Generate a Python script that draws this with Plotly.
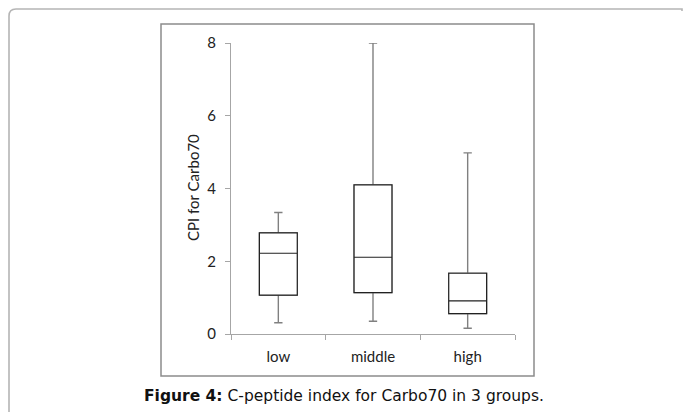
import plotly.graph_objects as go

# ---- data ----
groups = ["low", "middle", "high"]
lower = [0.31, 0.35, 0.16]
q1 = [1.07, 1.14, 0.56]
median = [2.22, 2.11, 0.91]
q3 = [2.78, 4.10, 1.67]
upper = [3.34, 8.00, 4.98]
y_ticks = [0, 2, 4, 6, 8]

W, H = 683, 412
# plot area in pixels
PL, PR, PT, PB = 231, 515, 43, 334


def X(px):
    return (px - PL) / (PR - PL)


def Y(py):
    return (PB - py) / (PB - PT)


fig = go.Figure()

# whiskers (gray)
fig.add_trace(go.Box(
    x=groups, q1=q1, median=median, q3=q3,
    lowerfence=lower, upperfence=upper,
    line=dict(color="#808080", width=1.4),
    fillcolor="white", whiskerwidth=0.22, width=0.4,
    boxpoints=False, hoverinfo="skip", showlegend=False,
))
# box body (black)
fig.add_trace(go.Box(
    x=groups, q1=q1, median=median, q3=q3,
    lowerfence=q1, upperfence=q3,
    line=dict(color="#222222", width=1.2),
    fillcolor="white", whiskerwidth=0, width=0.4,
    boxpoints=False, hoverinfo="skip", showlegend=False,
))

tick_font = dict(family="Lato, Carlito, Calibri, sans-serif", size=15, color="#222222")

fig.update_layout(
    width=W, height=H,
    margin=dict(l=PL, r=W - PR, t=PT, b=H - PB, pad=0),
    paper_bgcolor="white", plot_bgcolor="white",
    boxmode="overlay",
    showlegend=False,
    xaxis=dict(
        type="category", range=[-0.5, 2.5], showgrid=False, zeroline=False,
        showline=True, linecolor="#a6a6a6", linewidth=1.2,
        ticks="outside", tickson="boundaries", ticklen=5,
        tickcolor="#a6a6a6", tickwidth=1.2,
        tickfont=tick_font, ticklabelstandoff=9,
    ),
    yaxis=dict(
        range=[0, 8], tickvals=y_ticks, showgrid=False, zeroline=False,
        showline=True, linecolor="#a6a6a6", linewidth=1.2,
        ticks="outside", ticklen=5, tickcolor="#a6a6a6", tickwidth=1.2,
        tickfont=tick_font, ticklabelstandoff=6,
    ),
    shapes=[
        # chart frame
        dict(type="rect", xref="paper", yref="paper",
             x0=X(161), x1=X(534), y0=Y(376), y1=Y(24),
             line=dict(color="#8c8c8c", width=1.5), layer="below"),
        # page frame (top + left with rounded corner)
        dict(type="path", xref="paper", yref="paper",
             path=(f"M {X(9)},{Y(413)} L {X(9)},{Y(16)} "
                   f"Q {X(9)},{Y(9)} {X(16)},{Y(9)} L {X(682)},{Y(9)} L {X(682)},{Y(11)}"),
             line=dict(color="#b5b5b5", width=1.6), layer="below"),
    ],
    annotations=[
        dict(text="CPI for Carbo70", textangle=-90, showarrow=False,
             xref="paper", yref="paper", x=X(193), y=Y(188),
             xanchor="center", yanchor="middle",
             font=dict(family="Lato, Carlito, Calibri, sans-serif", size=15, color="#222222")),
        dict(text="<b>Figure 4:</b> C-peptide index for Carbo70 in 3 groups.",
             showarrow=False, xref="paper", yref="paper",
             x=X(343.5), y=Y(396), xanchor="center", yanchor="middle",
             font=dict(family="DejaVu Sans, Liberation Sans, Arial, sans-serif", size=15.5, color="#111111")),
    ],
)

fig.write_html("out.html")
